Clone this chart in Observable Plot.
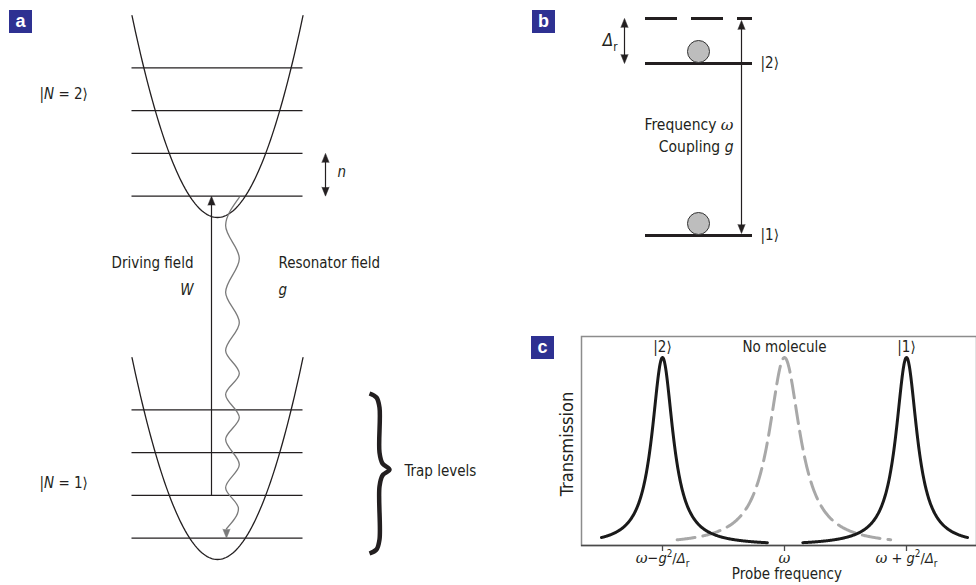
<!DOCTYPE html>
<html><head><meta charset="utf-8">
<script src="https://cdn.jsdelivr.net/npm/d3@7"></script>
<script src="https://cdn.jsdelivr.net/npm/@observablehq/plot@0.6"></script>
<style>
body{margin:0;background:#fff;}
#fig{position:relative;width:976px;height:585px;overflow:hidden;}
#fig svg{position:absolute;overflow:visible;}
.tag{position:absolute;width:23px;height:23px;background:#2e3192;color:#fff;font:bold 18px "Liberation Sans",Arial,sans-serif;text-align:center;line-height:22px;}
</style></head>
<body><div id="fig"></div>
<script>
// ---------------- DATA ----------------
// panel a: two trap potentials (molecule in state N=1 and N=2), energies in units of trap spacing n
const traps = ["|N = 1⟩", "|N = 2⟩"];
const trapOffsets = [0, 8];
const trapLevels = [0.5, 1.5, 2.5, 3.5];
const trapCurvature = 1.18;
const trapHalfWidth = 2;
const drivingFrom = 1.5, drivingTo = 8.5;      // lower trap level -> upper trap level
const resonatorFrom = 8.5, resonatorTo = 0.5;
// resonator (wavy) line, turning points
const waveX = [0.51, 0.19, 0.51, 0.19, 0.51, 0.19, 0.51, 0.19, 0.51, 0.19, 0.51, 0.19, 0.49, 0.21];
const waveE = [8.47, 7.81, 7.04, 6.25, 5.54, 4.89, 4.35, 3.86, 3.32, 2.81, 2.22, 1.68, 1.19, 0.72];
// panel b: molecular states and resonator detuning
const states = ["|1⟩", "|2⟩"];
const stateEnergies = [0, 1];
const detuning = 0.262;
// panel c: transmission peaks
const peakLabels = ["|2⟩", "No molecule", "|1⟩"];
const peakCenters = [-1, 0, 1];
const peakHWHM = [0.105, 0.155, 0.105];
const peakFrom = [-1.5, -0.88, 0.15];
const peakTo = [-0.14, 0.87, 1.5];
const tickValues = [-1, 0, 1];
const tickLabels = ["ω − g²/Δr", "ω", "ω + g²/Δr"];

// ---------------- helpers ----------------
const INK = "#231f20";
const FONT = "'Liberation Sans Narrow','Arial Narrow','DejaVu Sans Condensed','Roboto',sans-serif";
const fig = document.getElementById("fig");
function place(svg, left, top){ svg.style.left = left + "px"; svg.style.top = top + "px"; fig.appendChild(svg); return svg; }
function tag(letter, left, top){ const d = document.createElement("div"); d.className = "tag"; d.textContent = letter; d.style.left = left + "px"; d.style.top = top + "px"; fig.appendChild(d); }
function arrowHeads(list, kx, ky, len = 9, hw = 3.6){
  return list.flatMap((h, i) => {
    const by = h.tip - h.dir * len / ky;
    return [{id: i, x: h.x - hw / kx, y: by}, {id: i, x: h.x, y: h.tip}, {id: i, x: h.x + hw / kx, y: by}];
  });
}
const RICH = {
  "|N = 2⟩": [["|"], ["N", "i"], [" = 2⟩"]],
  "|N = 1⟩": [["|"], ["N", "i"], [" = 1⟩"]],
  "W": [["W", "i"]], "g": [["g", "i"]], "n": [["n", "i"]],
  "Δr": [["Δ", "i"], ["r", "sub"]],
  "Frequency ω": [["Frequency "], ["ω", "w"]],
  "Coupling g": [["Coupling "], ["g", "i"]],
  "ω − g²/Δr": [["ω", "w"], ["−"], ["g", "i"], ["2", "sup"], ["/"], ["Δ", "i"], ["r", "sub"]],
  "ω": [["ω", "w"]],
  "ω + g²/Δr": [["ω", "w"], [" + "], ["g", "i"], ["2", "sup"], ["/"], ["Δ", "i"], ["r", "sub"]]
};
function richify(svg){
  d3.select(svg).selectAll("text").each(function(){
    const segs = RICH[this.textContent];
    if (!segs) return;
    const fs = parseFloat(getComputedStyle(this).fontSize) || 15;
    const sel = d3.select(this); sel.text(null);
    let shift = 0;
    for (const [s, st] of segs){
      const ts = sel.append("tspan").text(s);
      let target = 0;
      if (st === "i") ts.attr("font-style", "italic");
      if (st === "w") ts.attr("font-style", "italic").attr("font-family", "'DejaVu Serif','Liberation Serif',serif");
      if (st === "sup"){ target = -0.4 * fs; ts.attr("font-size", (0.68 * fs) + "px"); }
      if (st === "sub"){ target = 0.28 * fs; ts.attr("font-size", (0.68 * fs) + "px"); }
      if (target !== shift){ ts.attr("dy", target - shift); shift = target; }
    }
  });
}
const baseStyle = {fontFamily: FONT, fontSize: "15px", color: INK, background: "transparent", overflow: "visible"};

// ---------------- PANEL A ----------------
const A = {w: 520, h: 585, x0: 217, y0: 559, k: 42.75};
const ax = px => (px - A.x0) / A.k, ay = py => (A.y0 - py) / A.k;
const parabola = traps.flatMap((t, i) => d3.range(0, 101).map(j => {
  const u = -trapHalfWidth + j * 2 * trapHalfWidth / 100;
  return {trap: t, u, E: trapOffsets[i] + trapCurvature * u * u};
}));
const levels = traps.flatMap((t, i) => trapLevels.map(e => ({trap: t, E: trapOffsets[i] + e})));
const wave = waveX.map((x, i) => ({x, y: waveE[i]}));
const xDrive = ax(211), xN = ax(325);
const headsA = arrowHeads([{x: xDrive, tip: drivingTo, dir: 1}, {x: xN, tip: trapOffsets[1] + trapLevels[1], dir: 1}, {x: xN, tip: trapOffsets[1] + trapLevels[0], dir: -1}], A.k, A.k);
const headWave = arrowHeads([{x: waveX[waveX.length - 1], tip: resonatorTo, dir: -1}], A.k, A.k);
const brace = [[369,393],[376,397],[379,407],[379,452],[382,463],[389,469],[382,475],[379,486],[379,539],[376,549],[369,553]].map(([px, py]) => ({x: ax(px), y: ay(py)}));

const svgA = Plot.plot({
  width: A.w, height: A.h, margin: 0,
  x: {domain: [ax(0), ax(A.w)], axis: null},
  y: {domain: [ay(A.h), ay(0)], axis: null},
  style: baseStyle,
  marks: [
    Plot.ruleY(levels, {y: "E", x1: -trapHalfWidth, x2: trapHalfWidth, stroke: INK, strokeWidth: 1.2}),
    Plot.line(parabola, {x: "u", y: "E", z: "trap", stroke: INK, strokeWidth: 1.3}),
    Plot.ruleX([xDrive], {x: d => d, y1: drivingFrom, y2: drivingTo - 0.15, stroke: INK, strokeWidth: 1.2}),
    Plot.ruleX([xN], {x: d => d, y1: trapOffsets[1] + trapLevels[0] + 0.1, y2: trapOffsets[1] + trapLevels[1] - 0.1, stroke: INK, strokeWidth: 1.2}),
    Plot.line(headsA, {x: "x", y: "y", z: "id", fill: INK, stroke: INK, strokeWidth: 0.5}),
    Plot.line(wave, {x: "x", y: "y", curve: "monotone-y", stroke: "#7a7a7a", strokeWidth: 1.3}),
    Plot.line(headWave, {x: "x", y: "y", z: "id", fill: "#7a7a7a", stroke: "#7a7a7a", strokeWidth: 0.5}),
    Plot.line(brace, {x: "x", y: "y", curve: "catmull-rom", stroke: INK, strokeWidth: 4.5, strokeLinecap: "butt"}),
    Plot.text([traps[1]], {x: ax(39), y: ay(94), text: d => d, textAnchor: "start", fill: INK}),
    Plot.text([traps[0]], {x: ax(39), y: ay(483), text: d => d, textAnchor: "start", fill: INK}),
    Plot.text(["Driving field", "W"], {x: ax(193), y: (d, i) => [ay(263), ay(290)][i], text: d => d, textAnchor: "end", fill: INK}),
    Plot.text(["Resonator field", "g"], {x: ax(278), y: (d, i) => [ay(263), ay(290)][i], text: d => d, textAnchor: "start", fill: INK}),
    Plot.text(["n"], {x: ax(337), y: ay(172), text: d => d, textAnchor: "start", fill: INK}),
    Plot.text(["Trap levels"], {x: ax(404), y: ay(471), text: d => d, textAnchor: "start", fill: INK})
  ]
});
place(svgA, 0, 0); richify(svgA);
tag("a", 9, 10);

// ---------------- PANEL B ----------------
const B = {w: 456, h: 260, y0: 235, k: 172};
const by = py => (B.y0 - py) / B.k;
const Eres = stateEnergies[1] + detuning;
const headsB = arrowHeads([
  {x: 104, tip: Eres, dir: 1}, {x: 104, tip: stateEnergies[1], dir: -1},
  {x: 221, tip: Eres - 0.012, dir: 1}, {x: 221, tip: stateEnergies[0] + 0.012, dir: -1}
], 1, B.k);
const svgB = Plot.plot({
  width: B.w, height: B.h, margin: 0,
  x: {domain: [0, B.w], axis: null},
  y: {domain: [by(B.h), by(0)], axis: null},
  style: baseStyle,
  marks: [
    Plot.ruleY([Eres], {y: d => d, x1: 125, x2: 232, stroke: INK, strokeWidth: 3, strokeDasharray: "32,14"}),
    Plot.ruleY(stateEnergies, {y: d => d, x1: 125, x2: 232, stroke: INK, strokeWidth: 3}),
    Plot.dot(stateEnergies, {x: 178, y: d => d, r: 11, dy: -12, fill: "#bdbdbd", stroke: "#333", strokeWidth: 1}),
    Plot.ruleX([104], {x: d => d, y1: stateEnergies[1] + 0.03, y2: Eres - 0.03, stroke: INK, strokeWidth: 1.2}),
    Plot.ruleX([221], {x: d => d, y1: stateEnergies[0] + 0.04, y2: Eres - 0.04, stroke: INK, strokeWidth: 1.2}),
    Plot.line(headsB, {x: "x", y: "y", z: "id", fill: INK, stroke: INK, strokeWidth: 0.5}),
    Plot.text(states, {x: 240, y: (d, i) => stateEnergies[i], text: d => d, textAnchor: "start", fill: INK}),
    Plot.text(["Δr"], {x: 97, y: by(40), text: d => d, textAnchor: "end", fill: INK, fontSize: 17}),
    Plot.text(["Frequency ω", "Coupling g"], {x: 213, y: (d, i) => [by(125), by(147)][i], text: d => d, textAnchor: "end", fill: INK, fontSize: 15.5})
  ]
});
place(svgB, 520, 0); richify(svgB);
tag("b", 532, 10);

// ---------------- PANEL C ----------------
const C = {w: 456, h: 285, ml: 61, mr: 0, mt: 36, mb: 40, x0: 264, kx: 122, ky: 188};
const curves = peakLabels.map((lab, i) => d3.range(0, 301).map(j => {
  const f = peakFrom[i] + j * (peakTo[i] - peakFrom[i]) / 300;
  return {peak: lab, f, T: 1 / (1 + ((f - peakCenters[i]) / peakHWHM[i]) ** 2)};
}));
const svgC = Plot.plot({
  width: C.w, height: C.h, marginLeft: C.ml, marginRight: C.mr, marginTop: C.mt, marginBottom: C.mb,
  x: {domain: [(C.ml - C.x0) / C.kx, (C.w - C.mr - C.x0) / C.kx], axis: null},
  y: {domain: [0, (C.h - C.mb - C.mt) / C.ky], axis: null},
  style: baseStyle,
  marks: [
    Plot.frame({stroke: "#8c8c8c", strokeWidth: 1.5}),
    Plot.ruleY([0], {stroke: "#4a4a4a", strokeWidth: 1.5}),
    Plot.ruleX(tickValues, {x: d => d, y1: 0, y2: -6 / C.ky, stroke: "#4a4a4a", strokeWidth: 1.3}),
    Plot.text(tickLabels, {x: (d, i) => tickValues[i], y: 0, dy: 13, text: d => d, fill: INK, fontSize: 14.5}),
    Plot.text(["Probe frequency"], {x: 0.02, frameAnchor: "bottom", dy: 33, text: d => d, fill: INK, fontSize: 15}),
    Plot.text(["Transmission"], {frameAnchor: "left", y: 0.54, dx: -14, rotate: -90, textAnchor: "middle", text: d => d, fill: INK, fontSize: 18}),
    Plot.line(curves[1], {x: "f", y: "T", stroke: "#a8a8a8", strokeWidth: 3, strokeDasharray: "18,8"}),
    Plot.line(curves[0], {x: "f", y: "T", stroke: "#1a1a1a", strokeWidth: 3}),
    Plot.line(curves[2], {x: "f", y: "T", stroke: "#1a1a1a", strokeWidth: 3}),
    Plot.text(peakLabels, {x: (d, i) => peakCenters[i], y: 1, dy: -10, text: d => d, fill: INK, fontSize: 15})
  ]
});
place(svgC, 520, 300); richify(svgC);
tag("c", 531, 336);
</script>
</body></html>
